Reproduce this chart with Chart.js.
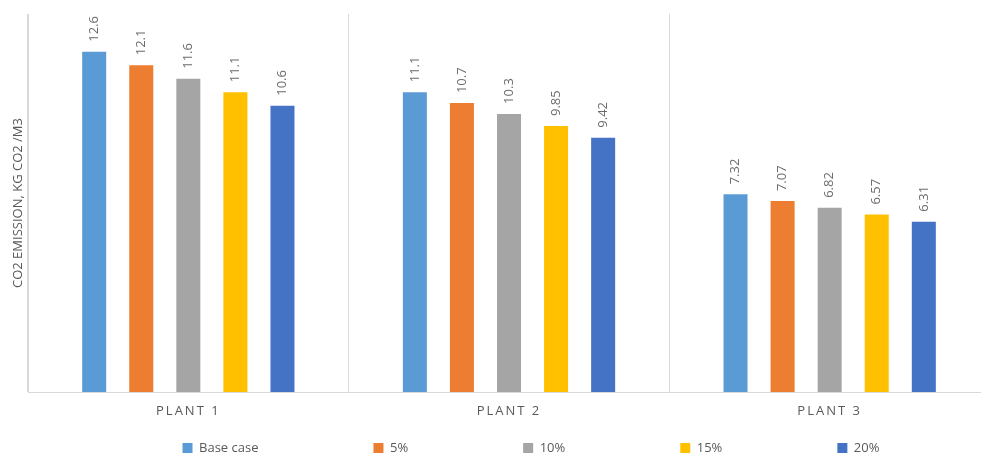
<!DOCTYPE html>
<html><head><meta charset="utf-8">
<script src="https://cdn.jsdelivr.net/npm/chart.js@4.4.1/dist/chart.umd.min.js"></script>
<style>html,body{margin:0;padding:0;background:#fff;overflow:hidden}#wrap{width:990px;height:454px;position:relative}</style>
</head><body><div id="wrap"><canvas id="c"></canvas></div>
<script>
// ---- data ----
const categories = ['PLANT 1', 'PLANT 2', 'PLANT 3'];
const seriesNames = ['Base case', '5%', '10%', '15%', '20%'];
const baseCase = [12.6, 11.1, 7.32];
const pct5 = [12.1, 10.7, 7.07];
const pct10 = [11.6, 10.3, 6.82];
const pct15 = [11.1, 9.85, 6.57];
const pct20 = [10.6, 9.42, 6.31];
const yAxisTitle = 'CO2 EMISSION, KG CO2 /M3';

// ---- styles ----
const seriesColors = ['#5B9BD5', '#ED7D31', '#A5A5A5', '#FFC000', '#4472C4'];
const seriesValues = [baseCase, pct5, pct10, pct15, pct20];
const FONT = "'Open Sans', 'Liberation Sans', sans-serif";

const valueLabels = {
  id: 'valueLabels',
  afterDatasetsDraw(chart) {
    const ctx = chart.ctx;
    ctx.save();
    ctx.font = '13px ' + FONT;
    ctx.fillStyle = '#6b6b6b';
    ctx.textAlign = 'left';
    ctx.textBaseline = 'middle';
    chart.data.datasets.forEach((ds, di) => {
      chart.getDatasetMeta(di).data.forEach((bar, i) => {
        ctx.save();
        ctx.translate(bar.x, bar.y - 10);
        ctx.rotate(-Math.PI / 2);
        ctx.fillText(String(ds.data[i]), 0, 0);
        ctx.restore();
      });
    });
    ctx.restore();
  }
};

const tweaks = {
  id: 'tweaks',
  afterInit(chart) {
    const lg = chart.legend;
    const origFit = lg.fit;
    lg.fit = function () { origFit.call(this); this.height = 26; };
    const origDraw = lg.draw;
    lg.draw = function () {
      const t = this.top, l = this.left, r = this.right;
      this.top = 441.5 - this.options.labels.padding;
      this.left = l + 36; this.right = r + 36;
      origDraw.call(this);
      this.top = t; this.left = l; this.right = r;
    };
  },
  beforeDraw(chart) {
    const s = chart.scales.x;
    if (s && !s.__ls) {
      const o = s.drawLabels;
      s.drawLabels = function (a) {
        const c = this.ctx; c.save(); c.letterSpacing = '2px'; o.call(this, a); c.restore();
      };
      s.__ls = true;
    }
  }
};

new Chart(document.getElementById('c'), {
  type: 'bar',
  data: {
    labels: categories,
    datasets: seriesNames.map((n, i) => ({
      label: n,
      data: seriesValues[i],
      backgroundColor: seriesColors[i],
      borderWidth: 0,
      barPercentage: 0.51,
      categoryPercentage: 0.734
    }))
  },
  options: {
    responsive: true,
    maintainAspectRatio: false,
    animation: false,
    devicePixelRatio: 1,
    layout: { padding: { top: 14, left: 0, right: 0, bottom: 0 } },
    plugins: {
      tooltip: { enabled: false },
      legend: {
        position: 'bottom',
        labels: {
          boxWidth: 10, boxHeight: 10, padding: 115,
          color: '#595959', font: { family: FONT, size: 13 }
        }
      }
    },
    scales: {
      x: {
        grid: { display: true, color: '#D9D9D9', drawTicks: false, offset: true },
        border: { display: true, color: '#D9D9D9' },
        ticks: { color: '#595959', padding: 11, font: { family: FONT, size: 13 } },
        afterFit(s) { s.height = 36; }
      },
      y: {
        min: 0, max: 14,
        grid: { display: false },
        border: { display: true, color: '#D9D9D9' },
        ticks: { display: false },
        title: { display: true, text: yAxisTitle, color: '#595959', padding: { top: 10, bottom: 0 }, font: { family: FONT, size: 13 } },
        afterFit(s) { s.width = 28; }
      }
    }
  },
  plugins: [valueLabels, tweaks]
});
</script>
</body></html>
